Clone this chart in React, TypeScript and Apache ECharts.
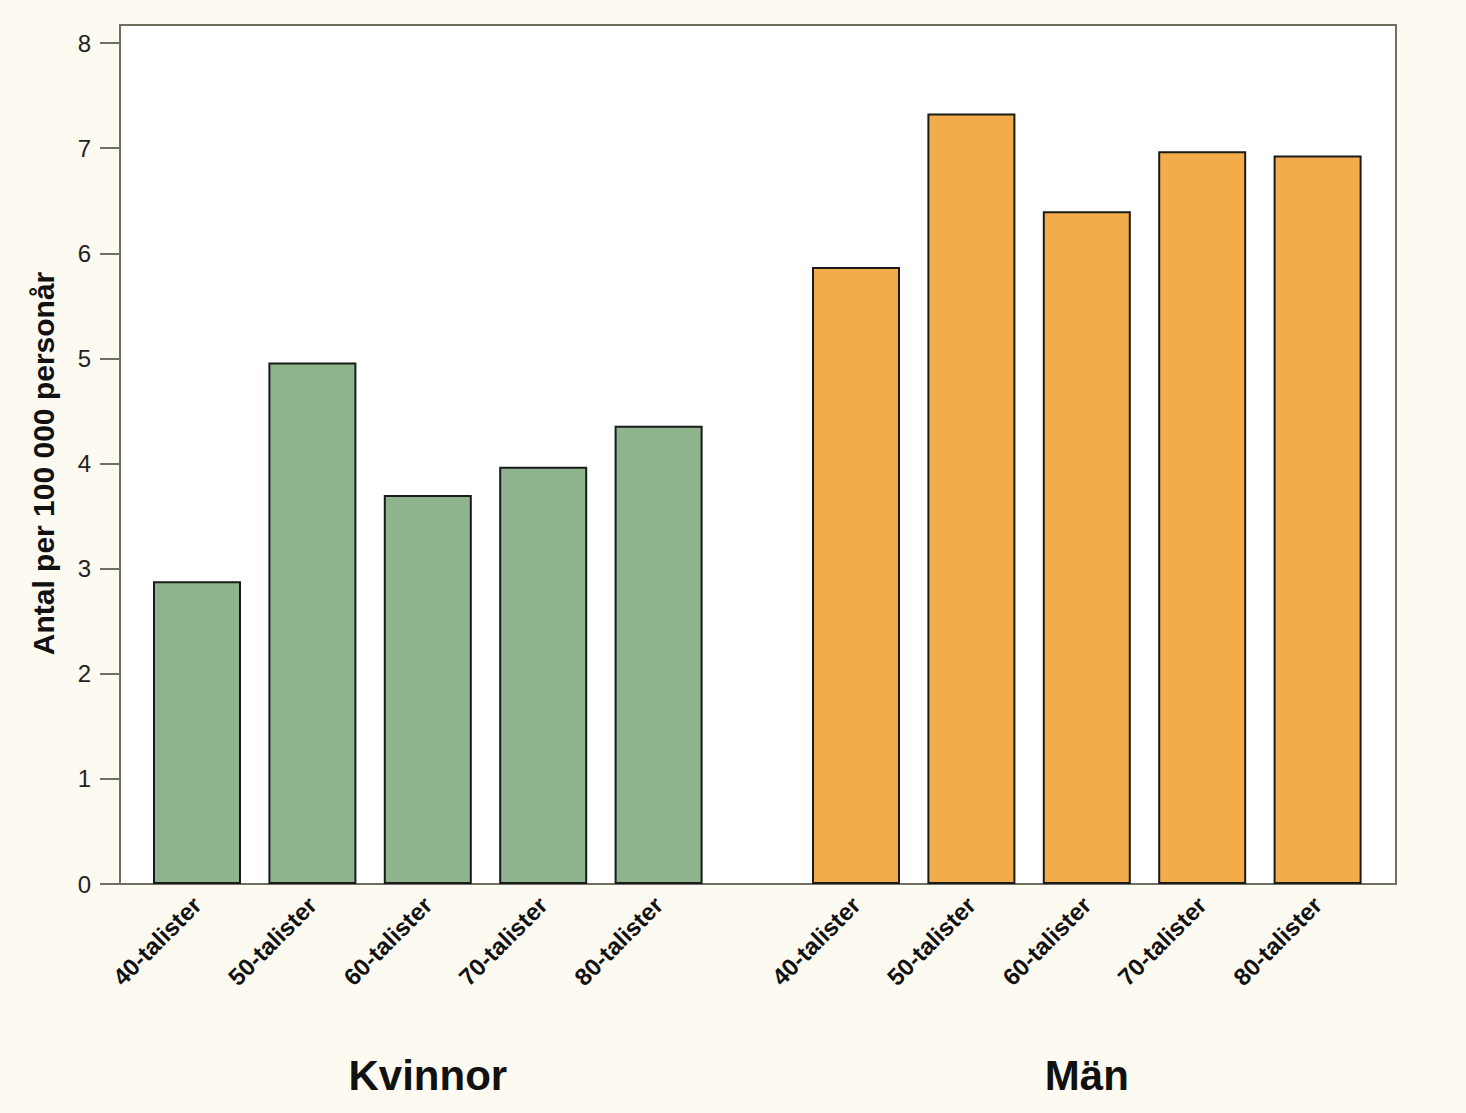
import React, { useEffect, useRef } from "react";
import * as echarts from "echarts";

const categories = ["40-talister", "50-talister", "60-talister", "70-talister", "80-talister"];
const kvinnorValues = [2.88, 4.96, 3.70, 3.97, 4.36];
const manValues = [5.87, 7.33, 6.40, 6.97, 6.93];
const groupNames = ["Kvinnor", "Män"];
const yTitle = "Antal per 100 000 personår";
const yMin = 0;
const yMax = 8;
const yInterval = 1;

const FONT = "'Liberation Sans', Arial, sans-serif";
const BG = "#fdfaf2";
const FRAME = "#6f6f62";

export default function App() {
  const ref = useRef<HTMLDivElement>(null);
  useEffect(() => {
    document.body.style.margin = "0";
    if (!ref.current) return;
    const chart = echarts.init(ref.current, null, { renderer: "svg" });
    const plotTop = 43;
    const plotH = 841;
    const hiddenY = (gi: number) => ({
      type: "value",
      gridIndex: gi,
      min: yMin,
      max: yMax,
      interval: yInterval,
      show: false,
    });
    const catAxis = (gi: number, name: string) => ({
      type: "category",
      gridIndex: gi,
      data: categories,
      axisLine: { show: false },
      axisTick: { show: false },
      axisLabel: {
        rotate: 45,
        margin: 17,
        interval: 0,
        fontFamily: FONT,
        fontWeight: "bold",
        fontSize: 24,
        color: "#111",
      },
      name,
      nameLocation: "middle",
      nameGap: 170,
      nameTextStyle: {
        fontFamily: FONT,
        fontWeight: "bold",
        fontSize: 42,
        color: "#111",
      },
    });
    const barStyle = (color: string) => ({
      color,
      borderColor: "#1a1a1a",
      borderWidth: 2,
    });
    chart.setOption({
      animation: false,
      backgroundColor: BG,
      graphic: [
        {
          type: "rect",
          z: -10,
          shape: { x: 120, y: 25, width: 1276, height: 859 },
          style: { fill: "#ffffff", stroke: FRAME, lineWidth: 2 },
        },
      ],
      grid: [
        { left: 120, top: plotTop, width: 1276, height: plotH },
        { left: 139.3, top: plotTop, width: 577, height: plotH },
        { left: 798.3, top: plotTop, width: 577, height: plotH },
      ],
      xAxis: [
        { type: "value", gridIndex: 0, min: 0, max: 1, show: false },
        catAxis(1, groupNames[0]),
        catAxis(2, groupNames[1]),
      ],
      yAxis: [
        {
          type: "value",
          gridIndex: 0,
          min: yMin,
          max: yMax,
          interval: yInterval,
          axisLine: { show: true, lineStyle: { color: FRAME, width: 2 } },
          axisTick: { show: true, length: 20, lineStyle: { color: FRAME, width: 2 } },
          splitLine: { show: false },
          axisLabel: {
            margin: 29,
            fontFamily: FONT,
            fontSize: 24,
            color: "#222",
          },
          name: yTitle,
          nameLocation: "middle",
          nameRotate: 90,
          nameGap: 62,
          nameTextStyle: {
            fontFamily: FONT,
            fontWeight: "bold",
            fontSize: 30,
            color: "#111",
          },
        },
        hiddenY(1),
        hiddenY(2),
      ],
      series: [
        {
          type: "bar",
          xAxisIndex: 1,
          yAxisIndex: 1,
          data: kvinnorValues,
          barWidth: 88,
          itemStyle: barStyle("#8fb48e"),
        },
        {
          type: "bar",
          xAxisIndex: 2,
          yAxisIndex: 2,
          data: manValues,
          barWidth: 88,
          itemStyle: barStyle("#f2ad4a"),
        },
      ],
    });
    return () => chart.dispose();
  }, []);
  return <div ref={ref} style={{ width: 1466, height: 1113 }} />;
}
